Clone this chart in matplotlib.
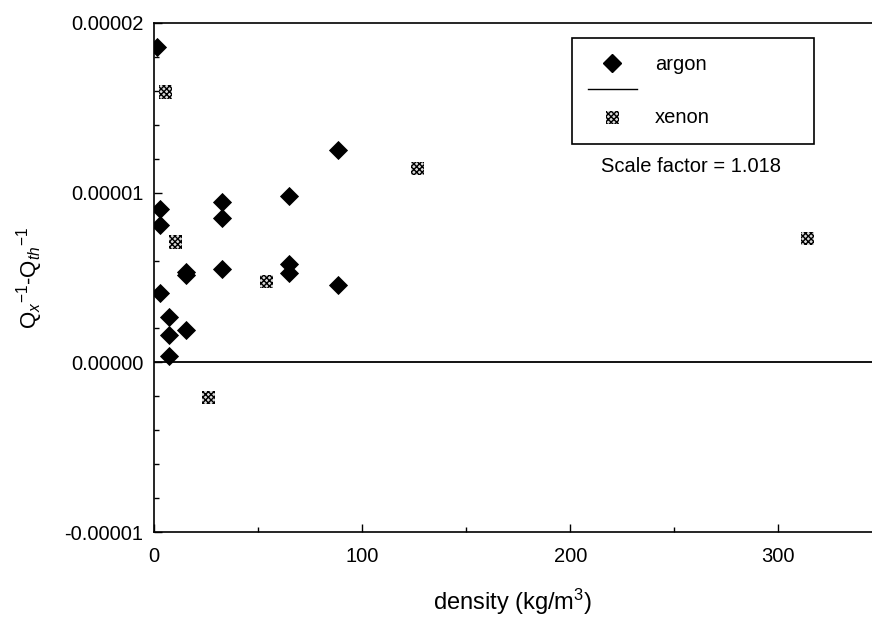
import matplotlib
matplotlib.use("Agg")
import matplotlib.pyplot as plt
from matplotlib.lines import Line2D
from matplotlib.ticker import MultipleLocator, FormatStrFormatter

# ---------------------------------------------------------------------------
# Data
# ---------------------------------------------------------------------------
argon_density = [1.6, 3.0, 3.0, 3.0, 7.2, 7.2, 7.2, 15.4, 15.4, 15.5,
                 32.6, 32.6, 32.6, 65.1, 65.1, 65.1, 88.3, 88.3]
argon_dq = [1.861e-5, 0.902e-5, 0.811e-5, 0.408e-5, 0.268e-5, 0.159e-5,
            0.035e-5, 0.515e-5, 0.530e-5, 0.189e-5, 0.943e-5, 0.849e-5,
            0.549e-5, 0.982e-5, 0.577e-5, 0.528e-5, 1.252e-5, 0.453e-5]

xenon_density = [5.6, 10.2, 26.1, 54.2, 126.7, 314.1]
xenon_dq = [1.593e-5, 0.709e-5, -0.209e-5, 0.478e-5, 1.142e-5, 0.732e-5]

y_ticks = [-1e-5, 0.0, 1e-5, 2e-5]
x_ticks = [0, 100, 200, 300]

plt.rcParams["font.family"] = ["Liberation Sans", "DejaVu Sans"]
plt.rcParams["mathtext.fontset"] = "custom"
plt.rcParams["mathtext.rm"] = "Liberation Sans"
plt.rcParams["mathtext.it"] = "Liberation Sans:italic"
plt.rcParams["hatch.linewidth"] = 1.0

fig = plt.figure(figsize=(8.72, 6.19), dpi=100)
ax = fig.add_axes([154 / 872, 1 - 532 / 619, 1 - 154 / 872, 509 / 619])

ax.plot(argon_density, argon_dq, linestyle="none", marker="D",
        markersize=9.0, color="black", markeredgewidth=0.6, zorder=3)
ax.scatter(xenon_density, xenon_dq, marker="s", s=90, facecolor="0.85",
           edgecolor="black", hatch="xxxxxx", linewidths=0, zorder=3)

ax.axhline(0, color="black", lw=1.3, zorder=2)

ax.set_xlim(0, 345)
ax.set_ylim(-1e-5, 2e-5)
ax.set_xticks(x_ticks)
ax.set_yticks(y_ticks)
ax.xaxis.set_minor_locator(MultipleLocator(50))
ax.yaxis.set_minor_locator(MultipleLocator(2e-6))
ax.yaxis.set_major_formatter(FormatStrFormatter("%.5f"))

ax.spines["right"].set_visible(False)
for s in ("left", "top", "bottom"):
    ax.spines[s].set_linewidth(1.2)
ax.tick_params(which="both", direction="in", top=False, right=False,
               labelsize=14.5, width=1.0)
ax.tick_params(which="major", length=6)
ax.tick_params(which="minor", length=3.8)
ax.tick_params(axis="x", pad=11)
ax.tick_params(axis="y", pad=7.5)

ax.set_xlabel("density (kg/m$^3$)", fontsize=17, labelpad=15)
ax.set_ylabel(r"Q$_{\mathit{x}}$$^{-1}$-Q$_{\mathit{th}}$$^{-1}$",
              fontsize=16, labelpad=14)

# legend: argon, a plain line, xenon
h_argon = Line2D([], [], linestyle="none", marker="D", markersize=9.0,
                 color="black")
h_line = Line2D([], [], color="black", lw=1.0)
h_xenon = ax.scatter([], [], marker="s", s=90, facecolor="0.85",
                     edgecolor="black", hatch="xxxxxx", linewidths=0)
x0 = (571.7 - 154) / 718
y1 = (532 - 38.3) / 509
w = (814 - 571.7) / 718
h = (142.7 - 38.3) / 509
leg = ax.legend([h_argon, h_line, h_xenon], ["argon", "", "xenon"],
                loc="upper left", bbox_to_anchor=(x0, y1 - h, w, h),
                mode="expand", borderaxespad=0, fontsize=14.5, frameon=True,
                fancybox=False, edgecolor="black", framealpha=1,
                handlelength=2.4, handletextpad=0.9, labelspacing=0.38,
                borderpad=0.82, scatterpoints=1)
leg.get_frame().set_linewidth(1.2)

ax.text((600.7 - 154) / 718, (532 - 166.7) / 509, "Scale factor = 1.018",
        transform=ax.transAxes, fontsize=14.5, ha="left", va="center")

fig.savefig("out.png", dpi=100)
